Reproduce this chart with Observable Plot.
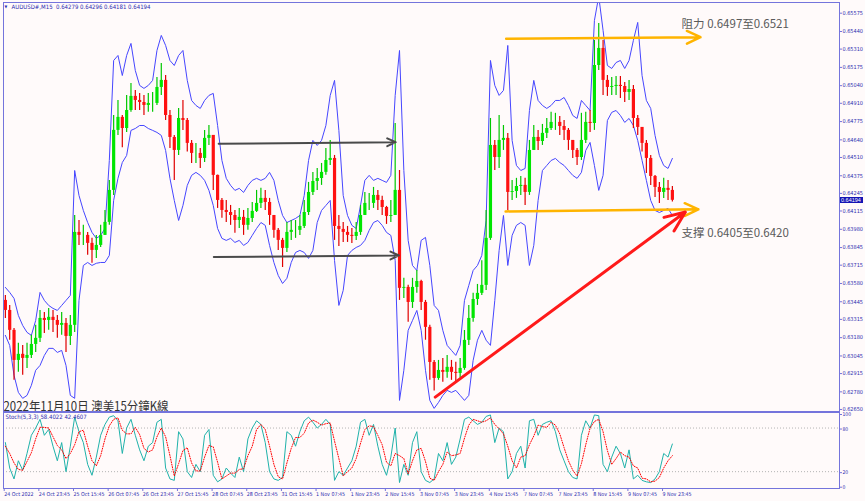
<!DOCTYPE html>
<html><head><meta charset="utf-8">
<script src="https://cdn.jsdelivr.net/npm/d3@7"></script>
<script src="https://cdn.jsdelivr.net/npm/@observablehq/plot@0.6"></script>
<style>
body{margin:0;background:#fffafa}
#wrap{position:relative;width:865px;height:501px;background:#fffafa;overflow:hidden}
#wrap svg{position:absolute;left:0}
#px{position:absolute;left:840px;width:22px;height:6.5px;background:#1414b4;color:#fff;font:5.5px 'Liberation Sans Narrow','Liberation Sans',sans-serif;line-height:6.5px;padding-left:1px}
</style></head><body><div id="wrap"></div>
<script>
// ---- data (AUDUSD M15, aggregated in 8-bar candles) ----
const barsPerCandle = 8;
const firstOpen = 0.63455;
const close = [
0.63381,0.63234,0.63012,0.63057,0.63027,0.63049,0.63130,0.63175,0.63322,0.63307,
0.63330,0.63307,0.63271,0.63285,0.63189,0.63271,0.63957,0.63935,0.63935,0.63876,
0.63824,0.63861,0.63935,0.64031,0.64267,0.64710,0.64806,0.64724,0.64857,0.64961,
0.64931,0.64916,0.64894,0.64909,0.64909,0.65027,0.65079,0.64820,0.64658,0.64562,
0.64798,0.64783,0.64614,0.64540,0.64540,0.64503,0.64651,0.64673,0.64378,0.64193,
0.64119,0.64104,0.64082,0.64045,0.64068,0.64009,0.64060,0.64112,0.64171,0.64208,
0.64178,0.64082,0.63972,0.63898,0.63839,0.63957,0.63972,0.63972,0.64001,0.64104,
0.64252,0.64333,0.64355,0.64400,0.64488,0.64503,0.64001,0.63979,0.63957,0.63935,
0.63927,0.63957,0.64082,0.64171,0.64171,0.64230,0.64193,0.64141,0.64075,0.64082,
0.64267,0.63544,0.63551,0.63440,0.63551,0.63595,0.63440,0.63256,0.62997,0.62879,
0.62938,0.62924,0.62961,0.62924,0.62916,0.62953,0.63160,0.63322,0.63462,0.63507,
0.63566,0.63913,0.64599,0.64510,0.64636,0.64651,0.64252,0.64259,0.64296,0.64304,
0.64252,0.64562,0.64658,0.64628,0.64688,0.64724,0.64769,0.64769,0.64739,0.64710,
0.64636,0.64562,0.64510,0.64636,0.64769,0.64761,0.65189,0.65315,0.65079,0.65027,
0.65034,0.65042,0.65034,0.64990,0.65012,0.64798,0.64732,0.64614,0.64503,0.64370,
0.64289,0.64252,0.64282,0.64267,0.64194];
const high = [
0.63492,0.63418,0.63248,0.63138,0.63123,0.63138,0.63197,0.63271,0.63381,0.63366,
0.63396,0.63381,0.63344,0.63366,0.63322,0.63344,0.64082,0.64045,0.64009,0.63957,
0.63913,0.63935,0.64009,0.64119,0.64341,0.64820,0.64931,0.64820,0.64968,0.65056,
0.65005,0.64983,0.64968,0.64983,0.64990,0.65101,0.65204,0.65115,0.64857,0.64673,
0.64872,0.64931,0.64798,0.64636,0.64614,0.64577,0.64710,0.64746,0.64673,0.64380,
0.64208,0.64193,0.64156,0.64119,0.64134,0.64119,0.64134,0.64178,0.64267,0.64282,
0.64267,0.64208,0.64082,0.63986,0.63913,0.64030,0.64045,0.64045,0.64082,0.64193,
0.64326,0.64400,0.64429,0.64466,0.64577,0.64636,0.64525,0.64082,0.64030,0.64001,
0.63986,0.64030,0.64156,0.64252,0.64245,0.64289,0.64267,0.64223,0.64149,0.64193,
0.64761,0.64414,0.63618,0.63566,0.63618,0.63676,0.63603,0.63455,0.63271,0.63012,
0.63012,0.63026,0.63049,0.63012,0.62998,0.63026,0.63233,0.63418,0.63508,0.63573,
0.63747,0.64119,0.64798,0.64636,0.64820,0.64746,0.64687,0.64341,0.64356,0.64370,
0.64356,0.64636,0.64746,0.64710,0.64754,0.64798,0.64843,0.64836,0.64813,0.64783,
0.64724,0.64636,0.64577,0.64836,0.64843,0.64857,0.65374,0.65499,0.65374,0.65115,
0.65101,0.65108,0.65108,0.65064,0.65079,0.65042,0.64820,0.64732,0.64636,0.64525,
0.64377,0.64326,0.64356,0.64341,0.64296];
const low = [
0.63322,0.63161,0.62865,0.62924,0.62902,0.62953,0.63026,0.63071,0.63145,0.63211,
0.63234,0.63219,0.63175,0.63197,0.63071,0.63123,0.63219,0.63861,0.63861,0.63788,
0.63729,0.63765,0.63846,0.63935,0.64009,0.64230,0.64673,0.64581,0.64695,0.64843,
0.64857,0.64857,0.64820,0.64843,0.64843,0.64894,0.64968,0.64783,0.64577,0.64341,
0.64525,0.64710,0.64551,0.64466,0.64466,0.64429,0.64473,0.64599,0.64267,0.64134,
0.64061,0.64030,0.64009,0.63950,0.63986,0.63935,0.63972,0.64030,0.64104,0.64134,
0.64119,0.64009,0.63913,0.63824,0.63698,0.63809,0.63898,0.63913,0.63935,0.63986,
0.64082,0.64230,0.64267,0.64304,0.64378,0.64451,0.63898,0.63853,0.63883,0.63883,
0.63876,0.63898,0.63935,0.64082,0.64119,0.64134,0.64119,0.64082,0.64016,0.64030,
0.64082,0.63455,0.63470,0.63293,0.63396,0.63508,0.63381,0.63161,0.62865,0.62787,
0.62865,0.62850,0.62880,0.62865,0.62850,0.62880,0.62939,0.63123,0.63293,0.63418,
0.63492,0.63529,0.63898,0.64414,0.64429,0.64562,0.64119,0.64193,0.64208,0.64230,
0.64156,0.64230,0.64562,0.64562,0.64599,0.64651,0.64710,0.64710,0.64673,0.64636,
0.64562,0.64503,0.64451,0.64488,0.64614,0.64695,0.64710,0.65152,0.64968,0.64961,
0.64968,0.64968,0.64946,0.64916,0.64931,0.64724,0.64673,0.64551,0.64392,0.64304,
0.64215,0.64171,0.64208,0.64193,0.64181];
const upperBand = [
0.63551,0.63514,0.63470,0.63344,0.63270,0.63219,0.63197,0.63307,0.63514,0.63455,
0.63418,0.63396,0.63381,0.63418,0.63455,0.63492,0.64414,0.64230,0.64119,0.64030,
0.63957,0.63913,0.63935,0.63986,0.64488,0.65226,0.65263,0.65115,0.65263,0.65352,
0.65152,0.65042,0.65020,0.65042,0.65079,0.65300,0.65411,0.65337,0.65226,0.65189,
0.65263,0.65300,0.65079,0.64931,0.64894,0.64872,0.64931,0.64968,0.64983,0.64746,
0.64488,0.64356,0.64304,0.64267,0.64282,0.64252,0.64304,0.64341,0.64356,0.64341,
0.64356,0.64400,0.64341,0.64193,0.64082,0.64030,0.64045,0.64060,0.64082,0.64230,
0.64488,0.64636,0.64599,0.64636,0.64746,0.64968,0.65079,0.64710,0.64230,0.64082,
0.64009,0.63986,0.64156,0.64341,0.64378,0.64341,0.64356,0.64341,0.64326,0.64378,
0.64968,0.65300,0.64414,0.63898,0.63713,0.63676,0.63898,0.63920,0.63713,0.63418,
0.63381,0.63234,0.63123,0.63086,0.63049,0.63123,0.63455,0.63566,0.63676,0.63713,
0.63787,0.64045,0.65226,0.65042,0.64968,0.65005,0.65337,0.64636,0.64451,0.64414,
0.64429,0.64857,0.65079,0.64931,0.64894,0.64872,0.64894,0.64931,0.64931,0.64953,
0.64894,0.64820,0.64798,0.64931,0.64894,0.64857,0.65521,0.65700,0.65448,0.65189,
0.65167,0.65211,0.65226,0.65167,0.65226,0.65374,0.65507,0.65115,0.64931,0.64872,
0.64673,0.64525,0.64451,0.64429,0.64503];
const lowerBand = [
0.63197,0.63123,0.62902,0.62776,0.62732,0.62754,0.62828,0.62939,0.62975,0.63049,
0.63101,0.63101,0.63071,0.63086,0.62975,0.62754,0.62732,0.63455,0.63713,0.63735,
0.63713,0.63729,0.63735,0.63735,0.63787,0.64193,0.64356,0.64473,0.64525,0.64710,
0.64724,0.64746,0.64746,0.64724,0.64710,0.64695,0.64673,0.64562,0.64356,0.64193,
0.64045,0.64156,0.64304,0.64378,0.64400,0.64378,0.64341,0.64267,0.64156,0.63986,
0.63913,0.63898,0.63913,0.63883,0.63898,0.63861,0.63883,0.63935,0.63986,0.64030,
0.64009,0.63861,0.63735,0.63639,0.63580,0.63618,0.63735,0.63809,0.63824,0.63809,
0.63765,0.63824,0.64030,0.64119,0.64156,0.64193,0.63750,0.63418,0.63529,0.63787,
0.63824,0.63846,0.63861,0.63898,0.63972,0.64030,0.64045,0.64009,0.63957,0.63935,
0.63750,0.62717,0.62939,0.63234,0.63307,0.63381,0.63234,0.62939,0.62717,0.62658,
0.62702,0.62754,0.62791,0.62776,0.62791,0.62754,0.62717,0.62754,0.63012,0.63161,
0.63234,0.63161,0.63123,0.63455,0.63824,0.64082,0.63713,0.63935,0.64009,0.64030,
0.64009,0.63713,0.63861,0.64193,0.64414,0.64451,0.64488,0.64503,0.64473,0.64451,
0.64414,0.64378,0.64356,0.64400,0.64562,0.64621,0.64451,0.64267,0.64378,0.64783,
0.64843,0.64857,0.64820,0.64769,0.64798,0.64746,0.64636,0.64488,0.64341,0.64193,
0.64119,0.64104,0.64119,0.64134,0.64082];
const stochMain = [
60,25,10,35,22,45,70,80,92,70, 78,55,35,60,20,55,95,75,60,30,
15,40,70,85,95,97,90,45,80,92, 70,50,35,55,60,88,92,25,10,8,
75,65,20,12,30,20,70,78,15,6, 10,25,18,12,40,20,65,80,90,85,
60,20,10,8,12,75,70,55,75,90, 95,88,80,85,92,85,8,20,15,25,
35,55,88,92,70,85,55,30,15,40, 80,5,30,15,60,75,20,8,5,10,
45,35,60,30,40,65,92,95,90,85, 88,96,98,60,80,75,10,20,45,55,
25,90,92,70,85,88,90,75,50,35, 20,12,10,70,90,80,98,97,30,20,
40,55,45,25,50,10,15,8,6,5, 10,20,45,40,58];
const stochSignal = [
55,45,32,23,22,34,46,65,81,81, 80,68,56,50,38,45,57,75,77,55,
35,28,42,65,83,92,94,77,72,72, 81,71,52,47,50,68,80,68,42,14,
31,49,53,32,21,21,40,56,54,33, 10,14,18,18,23,24,42,55,78,85,
78,55,30,13,10,32,52,67,67,73, 87,91,88,84,86,87,62,38,14,20,
25,38,59,78,83,82,70,57,33,28, 45,42,38,17,35,50,52,34,11,8,
20,30,47,42,43,45,66,84,92,90, 88,90,94,85,79,72,55,35,25,40,
42,57,69,84,82,81,88,84,72,53, 35,22,14,31,57,80,89,92,75,49,
30,38,47,42,40,28,25,11,10,6, 7,12,25,35,42];
const xTickLabels = ["24 Oct 2022","24 Oct 23:45","25 Oct 15:45","26 Oct 07:45","26 Oct 23:45","27 Oct 15:45","28 Oct 07:45","28 Oct 23:45","31 Oct 15:45","1 Nov 07:45","1 Nov 23:45","2 Nov 15:45","3 Nov 07:45","3 Nov 23:45","4 Nov 15:45","7 Nov 07:45","7 Nov 23:45","8 Nov 15:45","9 Nov 07:45","9 Nov 23:45"];
const barsPerLabel = 64;
const priceTicks = [0.65575,0.65440,0.65310,0.65175,0.65040,0.64910,0.64775,0.64640,0.64510,0.64375,0.64245,0.64115,0.63980,0.63845,0.63715,0.63580,0.63445,0.63315,0.63180,0.63045,0.62915,0.62780,0.62650];
const stochTicks = [100,80,20,0];
const stochLevels = [80,20];
const headerText = "AUDUSD#,M15  0.64279 0.64296 0.64181 0.64194";
const stochText = "Stoch(5,3,3) 58.4022 42.4607";
const titleText = "2022年11月10日 澳美15分鐘K線";
const resistance = {label:"阻力 0.6497至0.6521", bar:1253, price:0.65492};
const support = {label:"支撑 0.6405至0.6420", bar:1253, price:0.63949};
const grayArrows = [
  {fromBar:398, fromPrice:0.64611, toBar:725, toPrice:0.64623},
  {fromBar:389, fromPrice:0.63775, toBar:731, toPrice:0.63787}];
const orangeArrows = [
  {fromBar:929, fromPrice:0.65386, toBar:1288, toPrice:0.65398},
  {fromBar:928, fromPrice:0.64112, toBar:1284, toPrice:0.64127}];
const trendArrow = [{fromBar:798, fromPrice:0.62741, toBar:1260, toPrice:0.64107}];

// ---- build ----
const candles = close.map((c,i)=>({
  bar: i*barsPerCandle + barsPerCandle/2,
  open: i ? close[i-1] : firstOpen, high: high[i], low: low[i], close: c,
  upper: upperBand[i], lower: lowerBand[i], k: stochMain[i], d: stochSignal[i]
}));
const bull = candles.filter(d=>d.close>=d.open), bear = candles.filter(d=>d.close<d.open);
const xTicks = xTickLabels.map((_,i)=>i*barsPerLabel);
const labelOf = new Map(xTicks.map((t,i)=>[t,xTickLabels[i]]));
const tiny = "'Liberation Sans Narrow','DejaVu Sans Condensed','Liberation Sans',sans-serif";
const frameC = "#7474dc", textC = "#2c2cb0", bandC = "#4646ff";
const xDomain = [0.55, 1544.7];
const cjkSC = "'Noto Sans CJK SC','Noto Sans',sans-serif";
const arrowOpts = {x1:"fromBar", y1:"fromPrice", x2:"toBar", y2:"toPrice"};

const main = Plot.plot({
  width:865, height:411, marginLeft:3, marginRight:26, marginTop:2, marginBottom:0,
  x:{domain:xDomain, axis:null}, y:{domain:[0.62635,0.65654], axis:null},
  style:{background:"transparent", fontFamily:tiny, fontSize:"6px", overflow:"visible"},
  marks:[
    Plot.line(candles,{x:"bar", y:"upper", stroke:bandC, strokeWidth:1, clip:true}),
    Plot.line(candles,{x:"bar", y:"lower", stroke:bandC, strokeWidth:1, clip:true}),
    Plot.ruleX(bull,{x:"bar", y1:"low", y2:"high", stroke:"#00c800", strokeWidth:1.2}),
    Plot.ruleX(bear,{x:"bar", y1:"low", y2:"high", stroke:"#e00000", strokeWidth:1.2}),
    Plot.ruleX(bull,{x:"bar", y1:"open", y2:"close", stroke:"#00e600", strokeWidth:3.2}),
    Plot.ruleX(bear,{x:"bar", y1:"open", y2:"close", stroke:"#ff1010", strokeWidth:3.2}),
    Plot.arrow(grayArrows,{...arrowOpts, stroke:"#4a4a4a", strokeWidth:2, headLength:7, headAngle:50}),
    Plot.arrow(orangeArrows,{...arrowOpts, stroke:"#ffb400", strokeWidth:2.5, headLength:9, headAngle:50}),
    Plot.arrow(trendArrow,{...arrowOpts, stroke:"#ff1a1a", strokeWidth:3, headLength:11, headAngle:45}),
    Plot.text([resistance, support],{x:"bar", y:"price", text:"label", textAnchor:"start", lineAnchor:"middle", fontSize:11.5, fontFamily:cjkSC, fill:"#5a5a5a"}),
    Plot.text([titleText],{frameAnchor:"bottom-left", text:d=>d, dy:-1, lineAnchor:"bottom", fontSize:12.5, fontFamily:cjkSC, fill:"#333"}),
    Plot.text([headerText],{frameAnchor:"top-left", text:d=>d, dx:8, dy:2, lineAnchor:"top", fontSize:6, fill:textC}),
    Plot.text(["▼"],{frameAnchor:"top-left", text:d=>d, dx:1, dy:2.5, lineAnchor:"top", fontSize:4, fill:textC}),
    Plot.axisY(priceTicks,{anchor:"right", tickSize:2, tickPadding:1, tickFormat:d=>d.toFixed(5), fontSize:5.5, fill:textC, stroke:frameC, label:null}),
    Plot.frame({stroke:frameC})
  ]
});

const stoch = Plot.plot({
  width:865, height:90, marginLeft:3, marginRight:26, marginTop:1, marginBottom:13,
  x:{domain:xDomain, axis:null}, y:{domain:[-3.17,101.38], axis:null},
  style:{background:"transparent", fontFamily:tiny, fontSize:"6px", overflow:"visible"},
  marks:[
    Plot.ruleY(stochLevels,{stroke:"#b4b4b4", strokeDasharray:"1,2"}),
    Plot.line(candles,{x:"bar", y:"k", stroke:"#20b2aa", strokeWidth:1}),
    Plot.line(candles,{x:"bar", y:"d", stroke:"#ff0000", strokeWidth:1, strokeDasharray:"1,1.5"}),
    Plot.text([stochText],{frameAnchor:"top-left", text:d=>d, dx:2, dy:2, lineAnchor:"top", fontSize:6, fill:textC}),
    Plot.axisY(stochTicks,{anchor:"right", tickSize:2, tickPadding:1, dy:1, tickFormat:d=>String(d), fontSize:5, fill:textC, stroke:frameC, label:null}),
    Plot.axisX(xTicks,{anchor:"bottom", tickSize:3, tickPadding:1, tickFormat:d=>labelOf.get(d), textAnchor:"start", dx:1, fontSize:5.3, fill:textC, stroke:frameC, label:null}),
    Plot.frame({stroke:frameC})
  ]
});

const wrap = document.getElementById("wrap");
main.style.top = "0px"; stoch.style.top = "411px";
wrap.appendChild(main); wrap.appendChild(stoch);
// keep the caption at the reference's width
for (const t of main.querySelectorAll("text")) {
  if (t.textContent === titleText) {
    const w = t.getComputedTextLength();
    if (Math.abs(w - 165) > 4) { t.setAttribute("textLength", 165); t.setAttribute("lengthAdjust", "spacingAndGlyphs"); }
  }
}
const py = main.scale("y").apply(close[close.length-1]);
const box = document.createElement("div");
box.id = "px"; box.textContent = close[close.length-1].toFixed(5);
box.style.top = (py - 3.25) + "px";
wrap.appendChild(box);
</script></body></html>
